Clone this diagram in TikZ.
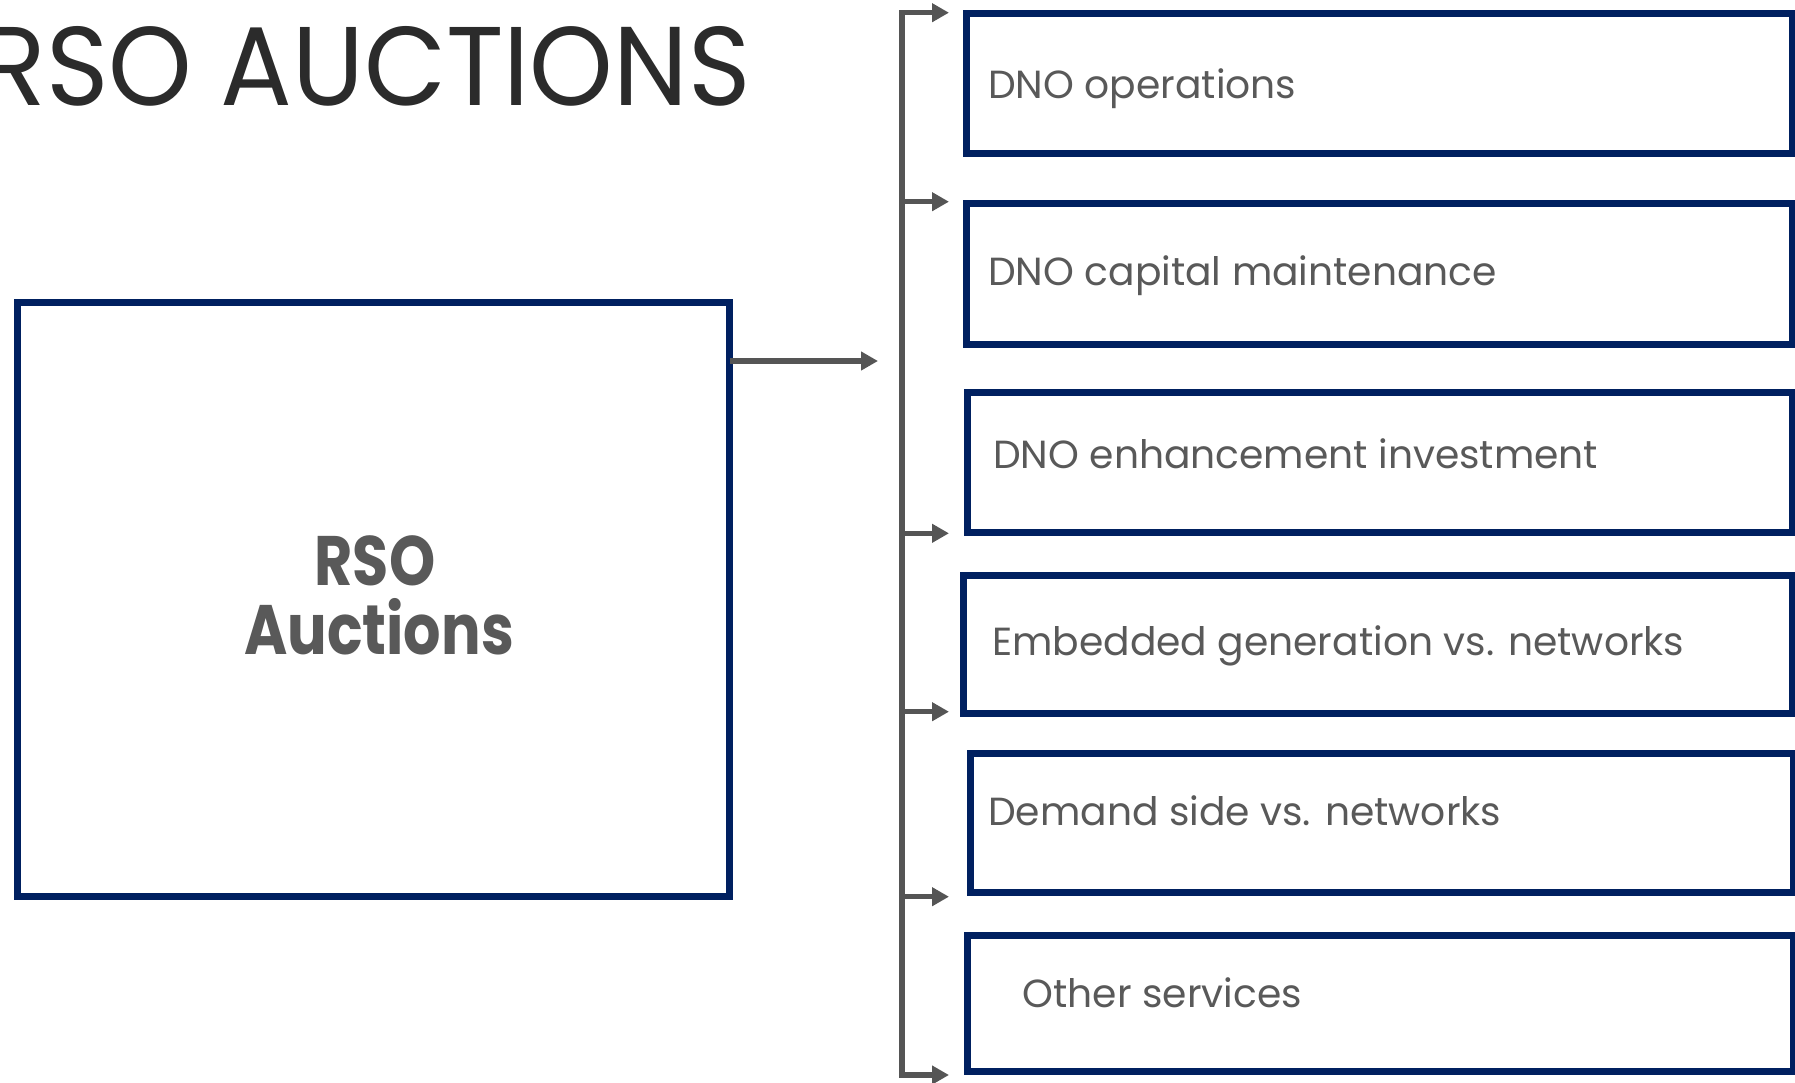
\documentclass[tikz,border=0pt]{standalone}
\usepackage{fontspec}
\setmainfont{Poppins}
\usetikzlibrary{arrows.meta}
\definecolor{navy}{HTML}{002060}
\definecolor{txtgray}{HTML}{595959}
\definecolor{lngray}{HTML}{555555}
\definecolor{ttl}{HTML}{2B2B2B}
\begin{document}
\begin{tikzpicture}[x=1pt,y=-1pt,
  box/.style={draw=navy, line width=7pt, inner sep=0pt, outer sep=0pt, fill=white},
  lbl/.style={anchor=base west, inner sep=0pt, text=txtgray, font=\fontsize{39.2}{46}\selectfont},
  mainlbl/.style={anchor=base, inner sep=0pt, text=txtgray, font=\fontsize{70}{80}\selectfont\bfseries},
  arr/.style={draw=lngray, line width=5.5pt, -{Triangle[length=17pt,width=18pt]}},
  trunk/.style={draw=lngray, line width=6pt}
]
\useasboundingbox (0,0) rectangle (1795,1082);
% title
\node[anchor=base east, text=ttl, inner sep=0pt, font=\fontsize{112}{120}\selectfont] (title) at (751,105) {\scalebox{0.95}[1]{RSO AUCTIONS}};
% main box
\node[box, minimum width=712.7pt, minimum height=593.8pt] (b0) at (373.35,599.4) {};
\node[mainlbl] (m1) at (375,585) {\scalebox{0.84}[1]{RSO}};
\node[mainlbl] (m2) at (379,654) {\scalebox{0.84}[1]{Auctions}};
% right boxes
\node[box, minimum width=825.5pt, minimum height=140pt] (b1) at (1379.25,83.5) {};
\node[box, minimum width=825.5pt, minimum height=140.5pt] (b2) at (1379.25,273.75) {};
\node[box, minimum width=825pt, minimum height=140.2pt] (b3) at (1379.5,462.4) {};
\node[box, minimum width=828.3pt, minimum height=138pt] (b4) at (1377.85,644) {};
\node[box, minimum width=822.2pt, minimum height=139pt] (b5) at (1381.9,822.5) {};
\node[box, minimum width=826pt, minimum height=136pt] (b6) at (1380,1003) {};
\node[lbl] (l1) at (988,98) {DNO operations};
\node[lbl] (l2) at (988,285) {DNO capital maintenance};
\node[lbl] (l3) at (993,468.5) {DNO enhancement investment};
\node[lbl] (l4) at (992,655) {Embedded generation vs. networks};
\node[lbl] (l5) at (988,825) {Demand side vs. networks};
\node[lbl] (l6) at (1022.5,1007) {Other services};
% trunk and connectors
\coordinate (ttop) at (902,10);
\coordinate (tbot) at (902,1078);
\coordinate (tipx) at (949,0);
\coordinate (mend) at (878,361);
\coordinate (t1) at (899,12.7);
\coordinate (t2) at (899,201.7);
\coordinate (t3) at (899,533.3);
\coordinate (t4) at (899,711.7);
\coordinate (t5) at (899,896.7);
\coordinate (t6) at (899,1075);
\draw[trunk] (ttop) -- (tbot);
\draw[arr] (mend -| b0.east) -- (mend);
\foreach \i in {1,...,6}{
  \draw[arr] (t\i) -- (t\i -| tipx);
}
\end{tikzpicture}
\end{document}
